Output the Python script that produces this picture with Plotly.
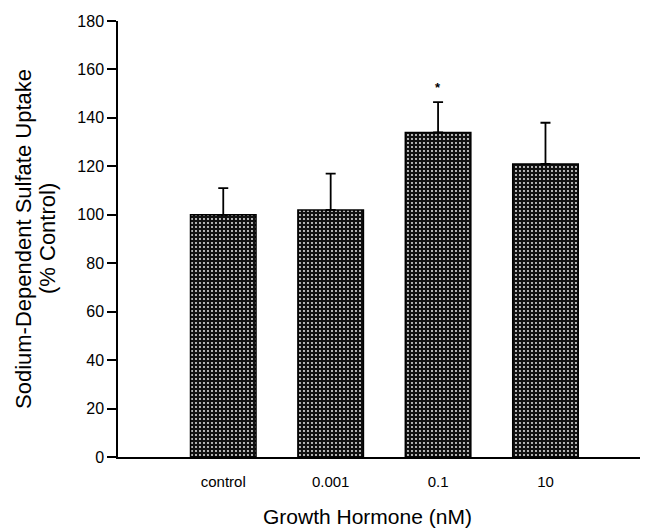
import plotly.graph_objects as go

categories = ["control", "0.001", "0.1", "10"]
uptake = [100, 102, 134, 121]
sem = [11, 15, 12.5, 17]
star_label = ["", "", "*", ""]

W, H = 645, 531
L, R, T, B = 118, 5, 21, 74
FONT = "Liberation Sans, Arial, Helvetica, sans-serif"

fig = go.Figure()
fig.add_trace(go.Bar(
    x=list(range(len(categories))), y=uptake, width=0.61,
    marker=dict(color="#111111",
                line=dict(color="#000", width=1.5),
                pattern=dict(shape=".", fgcolor="#ffffff", bgcolor="#111111",
                             size=4, solidity=0.16, fillmode="replace")),
    error_y=dict(type="data", symmetric=False, array=sem,
                 arrayminus=[0]*len(sem), color="#000", thickness=1.8, width=5),
    showlegend=False,
))

for i, (v, e, s) in enumerate(zip(uptake, sem, star_label)):
    if s:
        fig.add_annotation(x=i, y=v + e + 6, text="<b>*</b>", showarrow=False,
                           yanchor="middle", font=dict(size=13, color="#000"))

# x-axis title
fig.add_annotation(xref="paper", yref="paper", x=(367 - L) / (W - L - R), y=0,
                   yshift=-(516 - 457), text="Growth Hormone (nM)", showarrow=False,
                   font=dict(size=21, color="#000"), yanchor="middle")
# y-axis title (two lines)
fig.add_annotation(xref="paper", yref="paper", x=0, xshift=-(L - 23), y=0.5,
                   text="Sodium-Dependent Sulfate Uptake", showarrow=False,
                   textangle=-90, font=dict(size=22, color="#000"),
                   xanchor="center", yanchor="middle")
fig.add_annotation(xref="paper", yref="paper", x=0, xshift=-(L - 47), y=0.5,
                   text="(% Control)", showarrow=False,
                   textangle=-90, font=dict(size=22, color="#000"),
                   xanchor="center", yanchor="middle")

fig.update_layout(
    width=W, height=H,
    margin=dict(l=L, r=R, t=T, b=B),
    plot_bgcolor="white", paper_bgcolor="white",
    font=dict(family=FONT, color="#000"),
)
fig.update_xaxes(range=[-0.98, 3.88], showline=True, linecolor="#000",
                 linewidth=1.5, ticks="", showgrid=False, zeroline=False,
                 tickmode="array", tickvals=list(range(len(categories))),
                 ticktext=categories, tickfont=dict(size=15), ticklabelstandoff=10)
fig.update_yaxes(range=[0, 180], dtick=20, showline=True, linecolor="#000", linewidth=1.5,
                 ticks="outside", ticklen=9, tickwidth=1.5, tickcolor="#000",
                 showgrid=False, zeroline=False, tickfont=dict(size=16))

fig.write_html("out.html")
